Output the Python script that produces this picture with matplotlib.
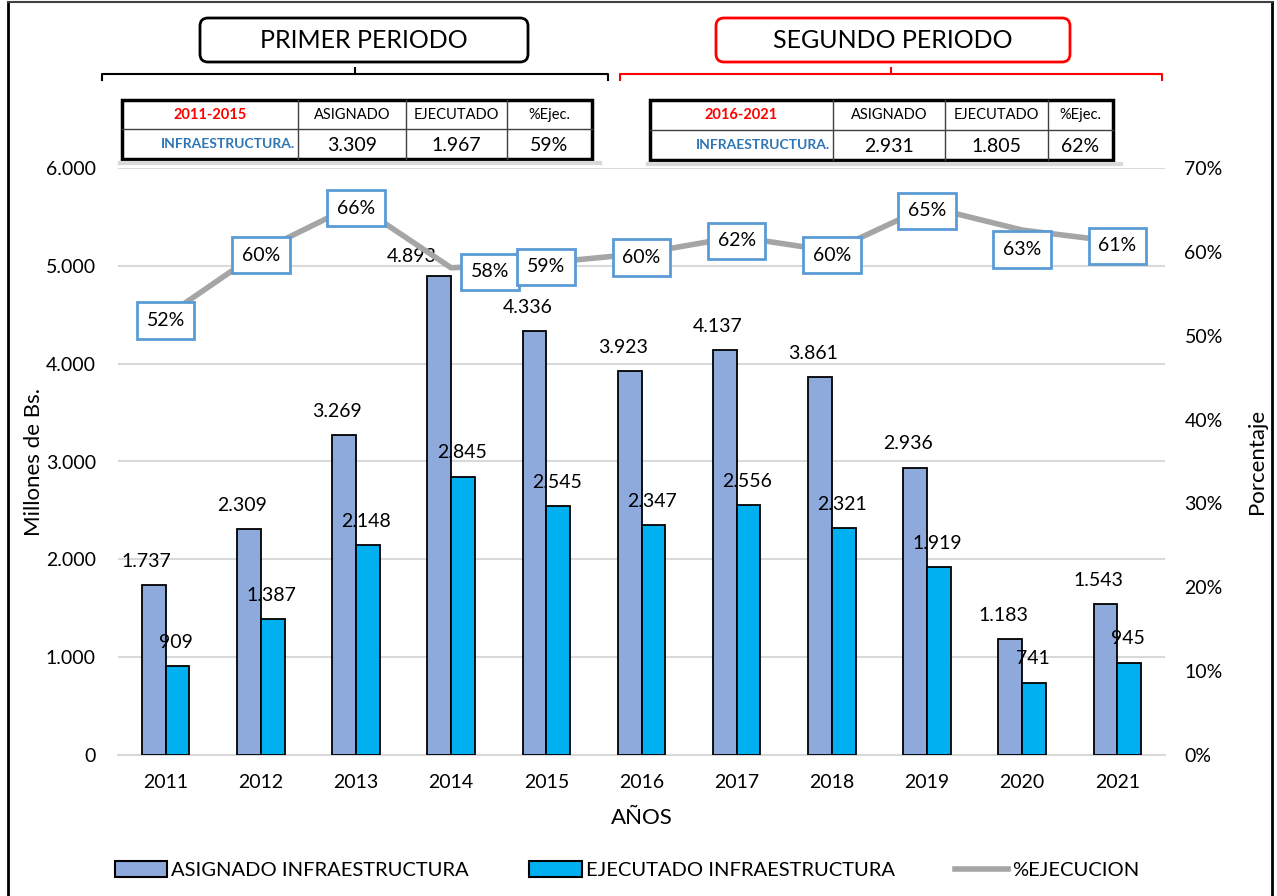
import numpy as np
import matplotlib
matplotlib.use("Agg")
import matplotlib.pyplot as plt
from matplotlib.patches import Rectangle, FancyBboxPatch, Patch
from matplotlib.lines import Line2D

plt.rcParams['font.family'] = ['Lato', 'DejaVu Sans']

# data
years = ['2011', '2012', '2013', '2014', '2015', '2016', '2017', '2018', '2019', '2020', '2021']
asignado = [1737, 2309, 3269, 4893, 4336, 3923, 4137, 3861, 2936, 1183, 1543]
ejecutado = [909, 1387, 2148, 2845, 2545, 2347, 2556, 2321, 1919, 741, 945]
pct = [0.523, 0.601, 0.657, 0.581, 0.587, 0.598, 0.618, 0.601, 0.654, 0.626, 0.612]
pct_labels = ['52%', '60%', '66%', '58%', '59%', '60%', '62%', '60%', '65%', '63%', '61%']

table_cols = ['ASIGNADO', 'EJECUTADO', '%Ejec.']
periodo1 = ['2011-2015', '3.309', '1.967', '59%']
periodo2 = ['2016-2021', '2.931', '1.805', '62%']

c_asig = '#8EA9DB'
c_ejec = '#00B0F0'
c_line = '#A5A5A5'
c_box = '#5B9BD5'


def fmt(v):
    return f'{v:,}'.replace(',', '.')


W, H = 1277, 896
fig = plt.figure(figsize=(W / 100, H / 100), dpi=100)
ax = fig.add_axes([118 / W, 1 - 755 / H, (1165 - 118) / W, (755 - 168) / H])

x = np.arange(len(years))
bw = 0.25
ax.bar(x - bw / 2, asignado, bw, color=c_asig, edgecolor='black', linewidth=1.3, zorder=3)
ax.bar(x + bw / 2, ejecutado, bw, color=c_ejec, edgecolor='black', linewidth=1.3, zorder=3)

for i in range(len(years)):
    dx = -20 if i == 3 else -5
    dy = 8 if i == 3 else 11
    ax.annotate(fmt(asignado[i]), (x[i] - bw / 2, asignado[i]), xytext=(dx, dy),
                textcoords='offset points', ha='center', va='bottom', fontsize=14, zorder=6)
    ax.annotate(fmt(ejecutado[i]), (x[i] + bw / 2, ejecutado[i]), xytext=(-1, 11),
                textcoords='offset points', ha='center', va='bottom', fontsize=14, zorder=6)

ax.set_xlim(-0.5, len(years) - 0.5)
ax.set_ylim(0, 6000)
ax.set_yticks(np.arange(0, 6001, 1000))
ax.set_yticklabels([fmt(v) for v in range(0, 6001, 1000)])
ax.set_xticks(x)
ax.set_xticklabels(years)
ax.tick_params(axis='both', length=0, labelsize=14)
ax.tick_params(axis='y', pad=16)
ax.tick_params(axis='x', pad=14)
ax.grid(axis='y', color='#D9D9D9', linewidth=1.5, zorder=0)
ax.set_axisbelow(True)
for s in ['top', 'right', 'left']:
    ax.spines[s].set_visible(False)
ax.spines['bottom'].set_color('#D9D9D9')
ax.spines['bottom'].set_linewidth(1.5)
ax.set_xlabel('AÑOS', fontsize=16, labelpad=12)
ax.set_ylabel('Millones de Bs.', fontsize=16)
ax.yaxis.set_label_coords(-74 / 1047, 0.5)

ax2 = ax.twinx()
ax2.plot(x, pct, color=c_line, linewidth=4, zorder=4, solid_capstyle='round')
ax2.set_ylim(0, 0.7)
ax2.set_yticks(np.arange(0, 0.71, 0.1))
ax2.set_yticklabels([f'{int(round(v * 100))}%' for v in np.arange(0, 0.71, 0.1)])
ax2.tick_params(axis='y', length=0, labelsize=14, pad=14)
for s in ax2.spines.values():
    s.set_visible(False)
ax2.set_ylabel('Porcentaje', fontsize=16)
ax2.yaxis.set_label_coords(1129 / 1047, 0.5)
for i in range(len(years)):
    dy = -14 if i == 9 else -3
    dx = 28 if i == 3 else 0
    ax2.annotate(pct_labels[i], (x[i], pct[i]), xytext=(dx, dy), textcoords='offset points',
                 ha='center', va='center', fontsize=14, zorder=7,
                 bbox=dict(boxstyle='square,pad=0.5', fc='white', ec=c_box, lw=2))

# overlay in pixel coords for headers and tables
ov = fig.add_axes([0, 0, 1, 1], zorder=10)
ov.set_xlim(0, W)
ov.set_ylim(H, 0)
ov.axis('off')

# figure frame
ov.plot([8, 8], [2, H], color='black', lw=2)
ov.plot([1272, 1272], [2, H], color='black', lw=2)
ov.plot([8, 1272], [2, 2], color='#404040', lw=1.5)


def header(x0, x1, text, color):
    ov.add_patch(FancyBboxPatch((x0, 18), x1 - x0, 44, boxstyle='round,pad=0,rounding_size=8',
                                fc='white', ec=color, lw=2))
    ov.text((x0 + x1) / 2, 41, text, ha='center', va='center', fontsize=18)


def brace(x0, x1, color):
    xm = (x0 + x1) / 2
    ov.plot([x0, x0, x1, x1], [80, 74, 74, 80], color=color, lw=1.5)
    ov.plot([xm, xm], [74, 68], color=color, lw=1.5)


def table(cols, y0, y1, row):
    ym = (y0 + y1) / 2
    ov.plot([cols[0] - 2, cols[-1] + 8], [y1 + 4, y1 + 4], color='#D9D9D9', lw=3)
    ov.add_patch(Rectangle((cols[0], y0), cols[-1] - cols[0], y1 - y0, fc='white', ec='black', lw=2.5))
    ov.plot([cols[0], cols[-1]], [ym, ym], color='#404040', lw=1)
    for c in cols[1:-1]:
        ov.plot([c, c], [y0, y1], color='#404040', lw=1)
    ov.text((cols[0] + cols[1]) / 2, (y0 + ym) / 2, row[0], ha='center', va='center',
            fontsize=10.5, color='red', fontweight='bold')
    ov.text(cols[1] - 3, (ym + y1) / 2, 'INFRAESTRUCTURA.', ha='right', va='center',
            fontsize=10, color='#2E75B6', fontweight='bold')
    for j, name in enumerate(table_cols):
        ov.text((cols[j + 1] + cols[j + 2]) / 2, (y0 + ym) / 2, name, ha='center', va='center', fontsize=10.5)
        ov.text((cols[j + 1] + cols[j + 2]) / 2, (ym + y1) / 2 + 1, row[j + 1], ha='center', va='center', fontsize=14)


header(200, 528, 'PRIMER PERIODO', 'black')
header(716, 1070, 'SEGUNDO PERIODO', 'red')
brace(102, 608, 'black')
brace(620, 1162, 'red')
table([122, 298, 406, 507, 592], 100, 159, periodo1)
table([650, 833, 945, 1048, 1113], 100, 160, periodo2)

handles = [Patch(fc=c_asig, ec='black', lw=1.5), Patch(fc=c_ejec, ec='black', lw=1.5),
           Line2D([], [], color=c_line, lw=4)]
fig.legend(handles, ['ASIGNADO INFRAESTRUCTURA', 'EJECUTADO INFRAESTRUCTURA', '%EJECUCION'],
           loc='center', bbox_to_anchor=(627 / W, 1 - 870 / H), ncol=3, frameon=False,
           fontsize=14.5, handlelength=2.6, handleheight=0.8, handletextpad=0.2, columnspacing=3.0)

fig.savefig('out.png', dpi=100)
